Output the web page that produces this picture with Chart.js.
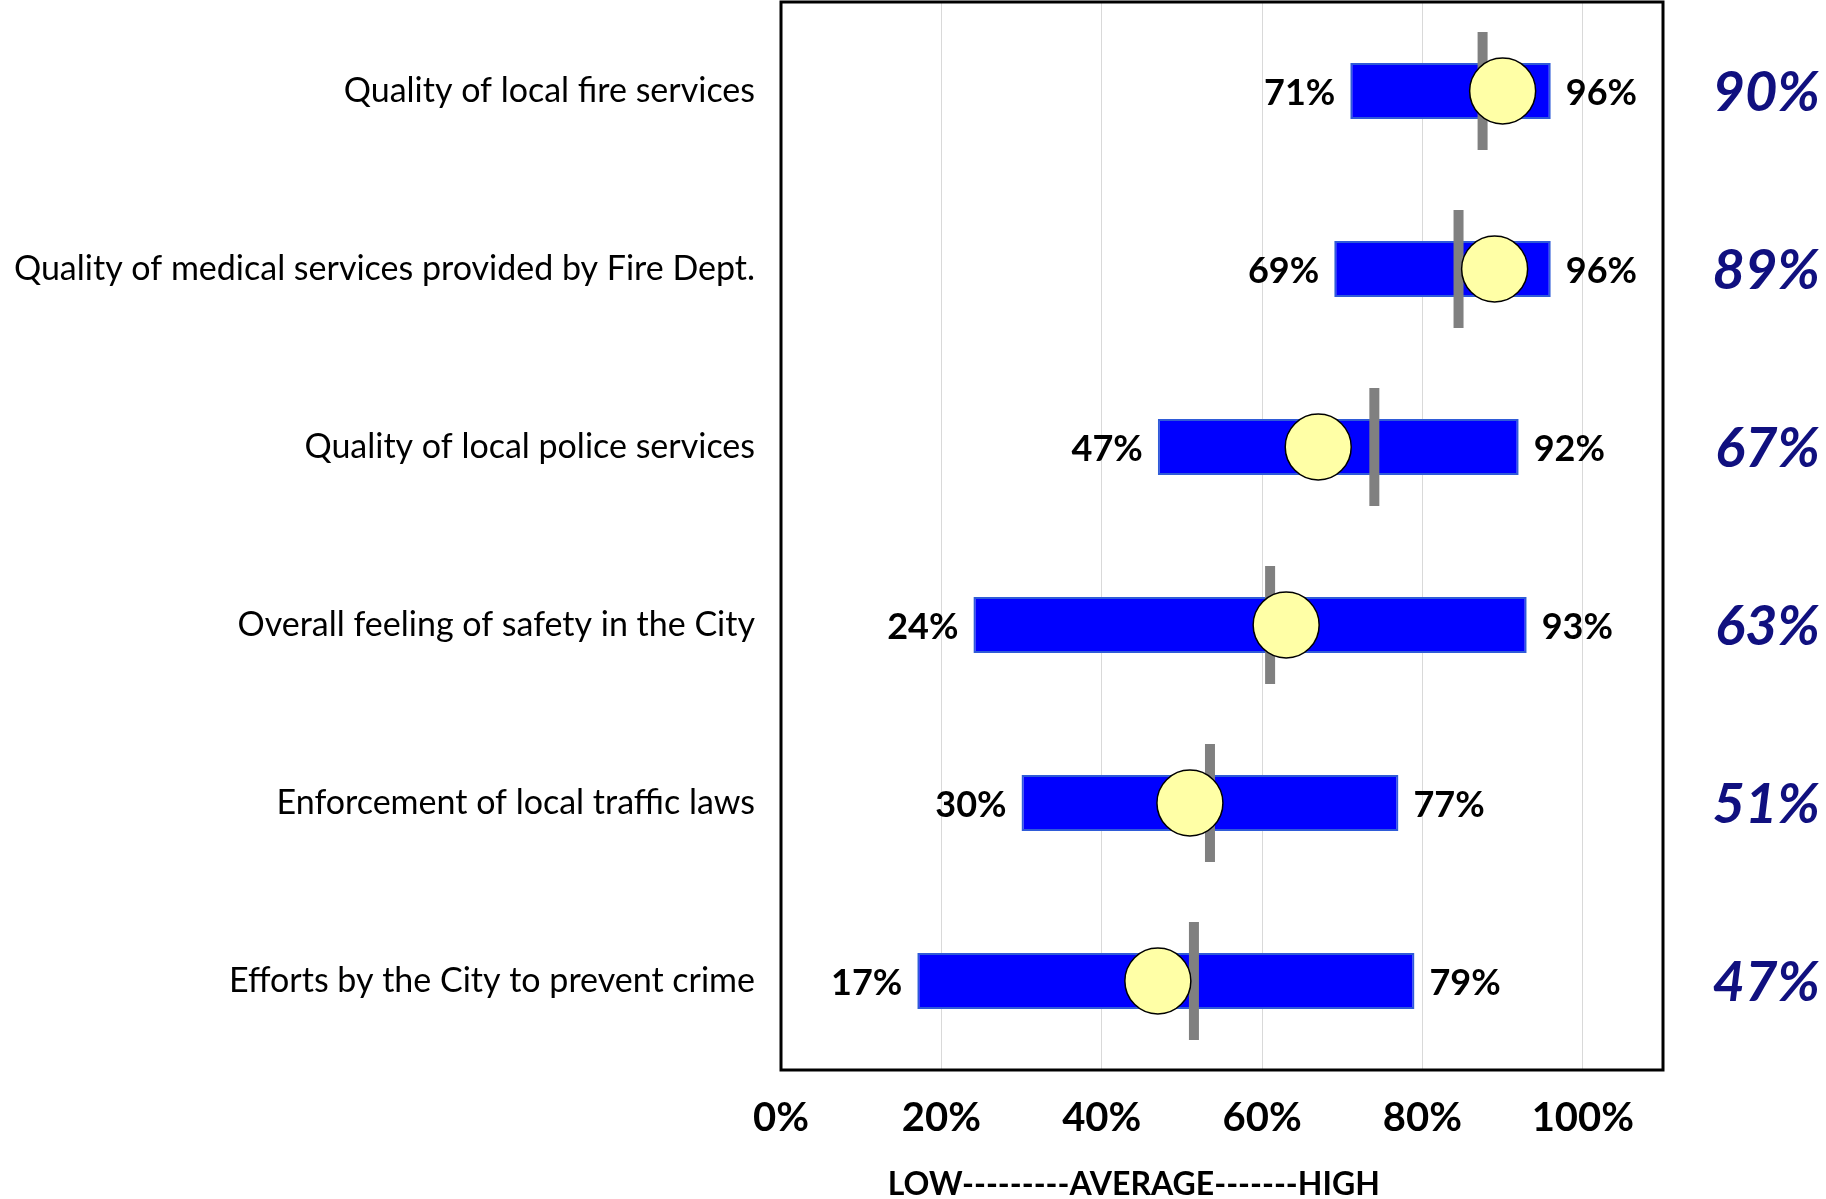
<!DOCTYPE html>
<html>
<head>
<meta charset="utf-8">
<script src="https://cdn.jsdelivr.net/npm/chart.js@4/dist/chart.umd.min.js"></script>
<style>
  html, body { margin: 0; padding: 0; background: #fff; }
  #wrap { width: 1826px; height: 1199px; position: relative; }
</style>
</head>
<body>
<div id="wrap"><canvas id="safetyRatings"></canvas></div>
<script>
const categories = [
  'Quality of local fire services',
  'Quality of medical services provided by Fire Dept.',
  'Quality of local police services',
  'Overall feeling of safety in the City',
  'Enforcement of local traffic laws',
  'Efforts by the City to prevent crime',
];
const lowValues = [71, 69, 47, 24, 30, 17];
const highValues = [96, 96, 92, 93, 77, 79];
// gray marker (average of comparison cities)
const averageValues = [87.5, 84.5, 74, 61, 53.5, 51.5];
// yellow circle = the city's own score, also printed at the right
const scoreValues = [90, 89, 67, 63, 51, 47];
const xTickValues = [0, 20, 40, 60, 80, 100];
const axisTitle = 'LOW---------AVERAGE-------HIGH';

Chart.defaults.font.family = 'Lato, "Open Sans", sans-serif';
Chart.defaults.color = '#000';

const pct = (v) => Math.round(v) + '%';

// black box round the plot area
const framePlugin = {
  id: 'frame',
  afterDatasetsDraw(chart) {
    const { ctx, chartArea } = chart;
    ctx.save();
    ctx.strokeStyle = '#000';
    ctx.lineWidth = 3;
    ctx.strokeRect(chartArea.left, chartArea.top, chartArea.right - chartArea.left, chartArea.bottom - chartArea.top);
    ctx.restore();
  }
};

// low / high labels next to each bar, score on the right, axis caption
const labelPlugin = {
  id: 'rowLabels',
  afterDraw(chart) {
    const { ctx } = chart;
    const x = chart.scales.x;
    const y = chart.scales.y;
    ctx.save();
    ctx.textBaseline = 'middle';
    categories.forEach((c, i) => {
      const yPos = y.getPixelForValue(i);
      ctx.fillStyle = '#000';
      ctx.font = 'bold 36px Lato, sans-serif';
      ctx.textAlign = 'right';
      ctx.fillText(pct(lowValues[i]), x.getPixelForValue(lowValues[i]) - 15, yPos + 2);
      ctx.textAlign = 'left';
      ctx.fillText(pct(highValues[i]), x.getPixelForValue(highValues[i]) + 15, yPos + 2);

      ctx.fillStyle = '#10107F';
      ctx.font = 'italic bold 56px Lato, sans-serif';
      ctx.textAlign = 'right';
      ctx.fillText(pct(scoreValues[i]), chart.width - 6, yPos + 2);
    });
    ctx.fillStyle = '#000';
    ctx.font = 'bold 32px Lato, sans-serif';
    ctx.textAlign = 'center';
    ctx.fillText(axisTitle, x.getPixelForValue(44), 1185);
    ctx.restore();
  }
};

new Chart('safetyRatings', {
  type: 'bar',
  data: {
    labels: categories,
    datasets: [
      {
        type: 'line',
        label: 'Score',
        data: scoreValues,
        showLine: false,
        pointStyle: 'circle',
        pointRadius: 33,
        pointBackgroundColor: '#FFFFA6',
        pointBorderColor: '#000',
        pointBorderWidth: 1.5,
        order: 0,
      },
      {
        type: 'line',
        label: 'Average',
        data: averageValues,
        showLine: false,
        pointStyle: 'line',
        pointRotation: 90,
        pointRadius: 59,
        pointBorderColor: '#808080',
        pointBorderWidth: 10,
        order: 1,
      },
      {
        label: 'Range',
        data: lowValues.map((l, i) => [l, highValues[i]]),
        backgroundColor: '#0000FF',
        borderColor: '#2F5BD8',
        borderWidth: 2,
        borderSkipped: false,
        categoryPercentage: 1,
        barPercentage: 0.315,
        order: 2,
      },
    ]
  },
  options: {
    indexAxis: 'y',
    responsive: true,
    maintainAspectRatio: false,
    animation: false,
    events: [],
    layout: {
      autoPadding: false,
      padding: { top: 2, right: 163, bottom: 0, left: 0 }
    },
    plugins: {
      legend: { display: false },
      tooltip: { enabled: false },
    },
    scales: {
      x: {
        min: 0,
        max: 110,
        afterFit: (scale) => { scale.height = 129; },
        afterBuildTicks: (scale) => { scale.ticks = xTickValues.map((v) => ({ value: v })); },
        grid: { color: '#D9D9D9', lineWidth: 1, drawTicks: false },
        border: { display: false },
        ticks: {
          padding: 24,
          font: { size: 40, weight: 'bold' },
          callback: (v) => v + '%',
        },
      },
      y: {
        afterFit: (scale) => {
          scale.width = 781;
          scale.paddingTop = 0;
          scale.paddingBottom = 0;
        },
        grid: { display: false, drawTicks: false },
        border: { display: false },
        ticks: {
          padding: 26,
          font: { size: 34 },
        },
      },
    }
  },
  plugins: [framePlugin, labelPlugin]
});
</script>
</body>
</html>
